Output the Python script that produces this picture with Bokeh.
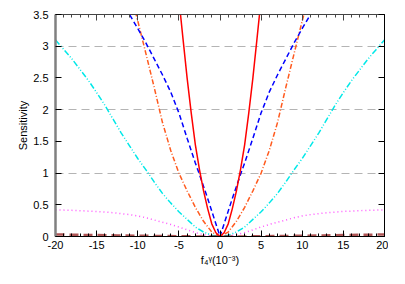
from bokeh.plotting import figure
from bokeh.models import (LinearAxis, Range1d, SingleIntervalTicker, FixedTicker,
                          NumeralTickFormatter, CustomLabelingPolicy)
from bokeh.embed import file_html
from bokeh.resources import INLINE

# ---- data ----
red_x = [-5.0, -4.5, -4.0, -3.5, -3.0, -2.5, -2.0, -1.5, -1.0, -0.5, 0.0,
         0.5, 1.0, 1.5, 2.0, 2.5, 3.0, 3.5, 4.0, 4.5, 5.0]
red_y = [3.75, 3.12, 2.5, 1.95, 1.45, 1.06, 0.72, 0.44, 0.2, 0.06, 0.0,
         0.06, 0.2, 0.44, 0.72, 1.06, 1.45, 1.95, 2.5, 3.12, 3.75]

blue_x = [-11.5, -11, -10, -9, -8, -7, -6, -5, -4, -3, -2.5, -2, -1.5, -1, -0.5, 0,
          0.5, 1, 1.5, 2, 2.5, 3, 4, 5, 6, 7, 8, 9, 10, 11, 11.5]
blue_y = [3.6, 3.5, 3.28, 3.05, 2.8, 2.55, 2.28, 1.95, 1.55, 1.16, 0.98, 0.79, 0.6, 0.4, 0.2, 0.0,
          0.2, 0.4, 0.6, 0.79, 0.98, 1.16, 1.55, 1.95, 2.28, 2.55, 2.8, 3.05, 3.28, 3.5, 3.6]

orange_x = [-10.6, -10, -9, -8, -7, -6, -5, -4, -3, -2, -1, 0,
            1, 2, 3, 4, 5, 6, 7, 8, 9, 10, 10.6]
orange_y = [3.7, 3.4, 2.88, 2.35, 1.8, 1.36, 1.0, 0.72, 0.46, 0.24, 0.07, 0.0,
            0.07, 0.24, 0.46, 0.72, 1.0, 1.36, 1.8, 2.35, 2.88, 3.4, 3.7]

cyan_x = [-20, -19, -18, -17, -16, -15, -14, -13, -12, -11, -10, -9, -8, -7, -6, -5, -4, -3, -2, -1, 0,
          1, 2, 3, 4, 5, 6, 7, 8, 9, 10, 11, 12, 13, 14, 15, 16, 17, 18, 19, 20]
cyan_y = [3.1, 2.95, 2.8, 2.63, 2.46, 2.27, 2.07, 1.85, 1.63, 1.43, 1.23, 1.05, 0.86, 0.68, 0.53, 0.39, 0.27, 0.15, 0.07, 0.02, 0.0,
          0.02, 0.07, 0.15, 0.27, 0.39, 0.53, 0.68, 0.86, 1.05, 1.23, 1.43, 1.63, 1.85, 2.07, 2.27, 2.46, 2.63, 2.8, 2.95, 3.1]

magenta_x = cyan_x
magenta_y = [0.42, 0.416, 0.412, 0.407, 0.4, 0.395, 0.385, 0.375, 0.36, 0.345, 0.325, 0.295, 0.26, 0.225, 0.19, 0.15, 0.105, 0.062, 0.03, 0.008, 0.0,
             0.008, 0.03, 0.062, 0.105, 0.15, 0.19, 0.225, 0.26, 0.295, 0.325, 0.345, 0.36, 0.375, 0.385, 0.395, 0.4, 0.407, 0.412, 0.416, 0.42]

brown_x = [-20, -17.5, -15, -12.5, -10, -7.5, -5, -2.5, 0, 2.5, 5, 7.5, 10, 12.5, 15, 17.5, 20]
brown_y = [0.032, 0.027, 0.022, 0.017, 0.012, 0.008, 0.004, 0.001, 0.0, 0.001, 0.004, 0.008, 0.012, 0.017, 0.022, 0.027, 0.032]

grid_levels = [1, 2, 3]

FONT = "Liberation Sans"

p = figure(frame_width=329, frame_height=222,
           x_range=Range1d(-20, 20), y_range=Range1d(0, 3.5),
           output_backend="svg", toolbar_location=None,
           min_border_left=55, min_border_right=4, min_border_top=14, min_border_bottom=40,
           background_fill_color="white", border_fill_color="white")

p.outline_line_color = "black"
p.outline_line_width = 1

p.xgrid.visible = False
p.ygrid.ticker = FixedTicker(ticks=grid_levels)
p.ygrid.grid_line_color = "#b4b4b4"
p.ygrid.grid_line_dash = "8 5"
p.ygrid.grid_line_width = 1.2

xt = SingleIntervalTicker(interval=5, num_minor_ticks=5)
yt = SingleIntervalTicker(interval=0.5, num_minor_ticks=0)

for ax in p.xaxis:
    ax.ticker = xt
    ax.formatter = NumeralTickFormatter(format="0")
    ax.axis_label = "f₄ᵞ(10⁻³)"
for ax in p.yaxis:
    ax.ticker = yt
    ax.formatter = NumeralTickFormatter(format="0.[0]")
    ax.axis_label = "Sensitivity"
    ax.axis_line_color = "#808080"
    ax.axis_line_width = 2.5
    ax.major_label_standoff = 7

for ax in list(p.xaxis) + list(p.yaxis):
    ax.major_tick_in = 6
    ax.major_tick_out = 0
    ax.minor_tick_in = 3
    ax.minor_tick_out = 0
    ax.major_label_text_font = FONT
    ax.major_label_text_font_size = "11px"
    ax.major_label_text_color = "black"
    ax.axis_label_text_font = FONT
    ax.axis_label_text_font_size = "11px"
    ax.axis_label_text_font_style = "normal"
    ax.axis_label_text_color = "black"
    ax.major_tick_line_color = "black"
    ax.minor_tick_line_color = "black"
for ax in p.xaxis:
    ax.major_label_standoff = 4
    ax.axis_label_standoff = 2
for ax in p.yaxis:
    ax.minor_tick_line_color = None
    ax.axis_label_standoff = 1

hide_all = CustomLabelingPolicy(code="""
for (const i of Array.from(indices)) { indices.unset(i) }
return indices
""")

top = LinearAxis(ticker=xt, major_tick_in=6, major_tick_out=0, minor_tick_in=3, minor_tick_out=0,
                 major_label_text_font_size="1px", major_label_policy=hide_all,
                 major_label_standoff=0, axis_line_color="#444444",
                 major_tick_line_color="#444444", minor_tick_line_color="#444444")
right = LinearAxis(ticker=yt, major_tick_in=6, major_tick_out=0, minor_tick_line_color=None,
                   major_label_text_font_size="1px", major_label_policy=hide_all,
                   major_label_standoff=0, axis_line_color="black")
p.add_layout(top, "above")
p.add_layout(right, "right")

p.line(magenta_x, magenta_y, line_color="#ff55ff", line_width=1.5, line_dash="1 3")
p.line(cyan_x, cyan_y, line_color="#00e8e8", line_width=1.5, line_dash="6 2 1 2 1 2")
p.line(orange_x, orange_y, line_color="#ff5a1e", line_width=1.5, line_dash="5 2 1 2")
p.line(blue_x, blue_y, line_color="#0000ff", line_width=1.5, line_dash="5 3")
p.line(red_x, red_y, line_color="#ff0000", line_width=1.5)
p.line(brown_x, brown_y, line_color="#9a2a2a", line_width=2.5, line_dash="9 5", line_alpha=0.8)

open("out.html", "w").write(file_html(p, INLINE))
